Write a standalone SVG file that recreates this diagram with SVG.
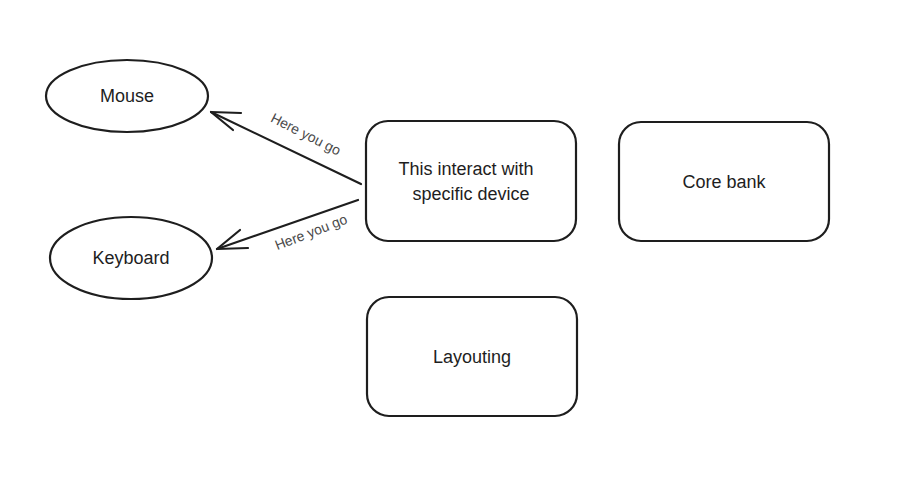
<svg xmlns="http://www.w3.org/2000/svg" width="901" height="483" viewBox="0 0 901 483">
<style>
.shape{fill:none;stroke:#1e1e1e;stroke-width:2.2;stroke-linecap:round;stroke-linejoin:round}
.lbl{font-family:"Liberation Sans","DejaVu Sans",sans-serif;font-size:18px;fill:#1e1e1e;text-anchor:middle;dominant-baseline:central}
.elbl{font-family:"Liberation Sans","DejaVu Sans",sans-serif;font-size:14px;fill:#4a4a4a;text-anchor:middle;dominant-baseline:central}
</style>
<rect width="901" height="483" fill="#ffffff"/>
<g id="connectors">
<g id="edge-mouse">
<path class="shape" d="M361 184 L211 112"/>
<path class="shape" d="M241 113 L211 112 L233 130"/>
<text class="elbl" transform="translate(306 134) rotate(27)">Here you go</text>
</g>
<g id="edge-keyboard">
<path class="shape" d="M358 200 L217 249"/>
<path class="shape" d="M240 230 L217 249 L248 248"/>
<text class="elbl" transform="translate(311 232) rotate(-21)">Here you go</text>
</g>
</g>
<g id="node-mouse">
<ellipse class="shape" cx="127" cy="96" rx="81" ry="36"/>
<text class="lbl" x="127" y="96">Mouse</text>
</g>
<g id="node-keyboard">
<ellipse class="shape" cx="131" cy="258" rx="81" ry="41"/>
<text class="lbl" x="131" y="258">Keyboard</text>
</g>
<g id="node-device">
<rect class="shape" x="366" y="121" width="210" height="120" rx="22"/>
<text class="lbl" x="466" y="169">This interact with</text>
<text class="lbl" x="471" y="194">specific device</text>
</g>
<g id="node-core">
<rect class="shape" x="619" y="122" width="210" height="119" rx="22"/>
<text class="lbl" x="724" y="182">Core bank</text>
</g>
<g id="node-layouting">
<rect class="shape" x="367" y="297" width="210" height="119" rx="22"/>
<text class="lbl" x="472" y="357">Layouting</text>
</g>
</svg>
